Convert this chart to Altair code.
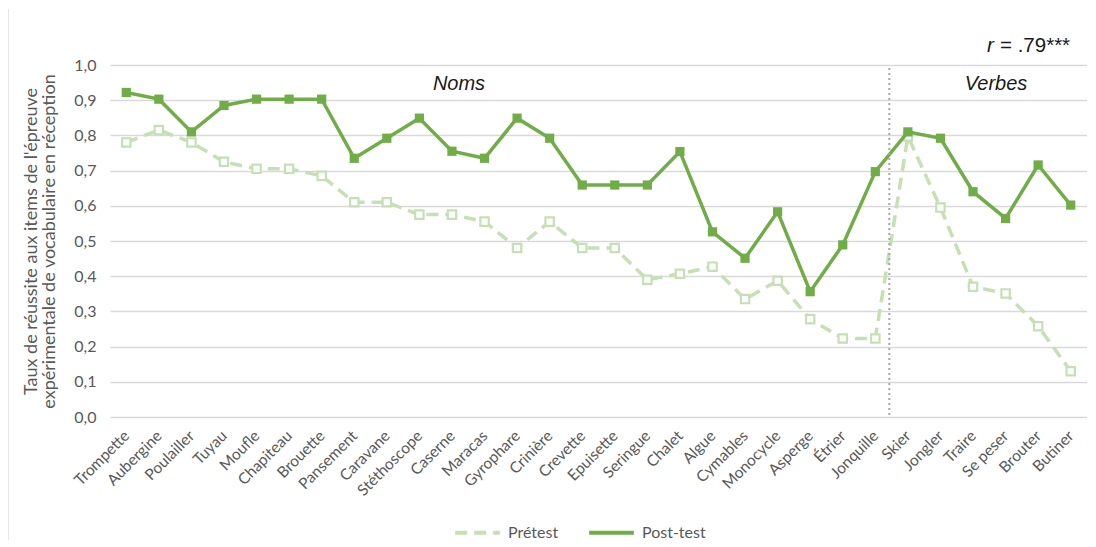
import altair as alt
import pandas as pd

categories = ["Trompette", "Aubergine", "Poulailler", "Tuyau", "Moufle", "Chapiteau",
              "Brouette", "Pansement", "Caravane", "Stéthoscope", "Caserne", "Maracas",
              "Gyrophare", "Crinière", "Crevette", "Epuisette", "Seringue", "Chalet",
              "Algue", "Cymables", "Monocycle", "Asperge", "Étrier", "Jonquille",
              "Skier", "Jongler", "Traire", "Se peser", "Brouter", "Butiner"]

pretest = [0.78, 0.815, 0.78, 0.725, 0.705, 0.705, 0.685, 0.61, 0.61, 0.575, 0.575, 0.555,
           0.48, 0.555, 0.48, 0.48, 0.39, 0.407, 0.427, 0.335, 0.387, 0.278, 0.223, 0.223,
           0.797, 0.595, 0.37, 0.351, 0.258, 0.13]

posttest = [0.922, 0.903, 0.81, 0.885, 0.903, 0.903, 0.903, 0.735, 0.792, 0.849, 0.755, 0.735,
            0.849, 0.792, 0.659, 0.659, 0.659, 0.754, 0.526, 0.451, 0.583, 0.356, 0.489, 0.697,
            0.81, 0.792, 0.64, 0.564, 0.716, 0.602]

series_names = ["Prétest", "Post-test"]
series_colors = ["#C5E0B4", "#70AD47"]
divider_after = ["Jonquille"]

rows = []
for s, vals in zip(series_names, [pretest, posttest]):
    for c, v in zip(categories, vals):
        rows.append({"series": s, "cat": c, "value": v})
df = pd.DataFrame(rows)
df_pre = df[df.series == "Prétest"]
df_post = df[df.series == "Post-test"]

FONT = "Lato"
LBL = "#595959"

W, H = 977, 352

xenc = alt.X("cat:N", sort=categories, scale=alt.Scale(type="point", padding=0.5),
             axis=alt.Axis(title=None, labelAngle=-45, labelAlign="right", labelBaseline="top",
                           labelFont=FONT, labelFontSize=15.5, labelColor=LBL, labelPadding=11,
                           labelOffset=-5,
                           ticks=False, tickSize=0, domain=False, grid=False, labelOverlap=False))
yenc = alt.Y("value:Q", scale=alt.Scale(domain=[0, 1], nice=False),
             axis=alt.Axis(title=["Taux de réussite aux items de l'épreuve",
                                  "expérimentale de vocabulaire en réception"],
                           values=[i / 10 for i in range(11)],
                           labelExpr="replace(format(datum.value, '.1f'), '.', ',')",
                           labelFont=FONT, labelFontSize=16, labelColor=LBL, labelPadding=14,
                           ticks=False, tickSize=0, domain=False,
                           gridColor="#D9D9D9", gridWidth=1.3,
                           titleFont=FONT, titleFontSize=18, titleFontWeight="normal",
                           titleColor=LBL, titlePadding=15, titleLineHeight=18))

color = alt.Color("series:N", scale=alt.Scale(domain=series_names, range=series_colors),
                  legend=alt.Legend(title=None, orient="none", legendX=343, legendY=443,
                                    direction="horizontal", symbolType="stroke",
                                    symbolStrokeWidth=4, symbolSize=2000, symbolOpacity=1,
                                    labelFont=FONT, labelFontSize=16, labelColor=LBL,
                                    columnPadding=22, labelOffset=6))
dash = alt.StrokeDash("series:N", scale=alt.Scale(domain=series_names, range=[[12, 7], [1, 0]]),
                      legend=None)

pre_pts = alt.Chart(df_pre).mark_square(size=70, fill="white", stroke="#C5E0B4",
                                        strokeWidth=2.2, opacity=1).encode(x=xenc, y=yenc)
post_pts = alt.Chart(df_post).mark_square(size=85, color="#70AD47", opacity=1).encode(x=xenc, y=yenc)

line_pre = alt.Chart(df_pre).mark_line(strokeWidth=3.5, strokeDash=[12, 7], color="#C5E0B4").encode(x=xenc, y=yenc)
line_post = alt.Chart(df_post).mark_line(strokeWidth=3.5, color="#70AD47").encode(x=xenc, y=yenc)

legend_layer = alt.Chart(df).mark_line(strokeWidth=3.5, opacity=0).encode(
    x=xenc, y=yenc, color=color, strokeDash=dash)

rule = alt.Chart(pd.DataFrame({"cat": divider_after})).mark_rule(
    color="#A6A6A6", strokeWidth=2, strokeDash=[2, 3], xOffset=14).encode(
    x=alt.X("cat:N", sort=categories), y=alt.value(3), y2=alt.value(H))

border = alt.Chart(pd.DataFrame({"cat": ["Trompette"]})).mark_rule(
    color="#E6E6E6", strokeWidth=1).encode(x=alt.value(-101.5), y=alt.value(-56), y2=alt.value(475))

def txt(label, xv, yv, style="italic", align="center", size=20):
    return alt.Chart(pd.DataFrame({"t": [label]})).mark_text(
        font="Liberation Sans", fontSize=size, fontStyle=style, color="#1a1a1a",
        align=align, baseline="alphabetic").encode(
        text="t:N", x=alt.value(xv), y=alt.value(yv))

noms = txt("Noms", 349, 25)
verbes = txt("Verbes", 886, 25)
r1 = txt("r", 877, -13, "italic", "left", 20.5)
r2 = txt("=\u00a0.79***", 890, -13, "normal", "left", 20.5)

chart = alt.layer(border, legend_layer, line_pre, pre_pts, line_post, post_pts, rule,
                  noms, verbes, r1, r2).properties(
    width=W, height=H,
    autosize=alt.AutoSizeParams(type="none"),
    padding={"left": 102, "top": 57, "right": 0, "bottom": 124},
).configure_view(stroke=None)

chart.save("out.html", embed_options={"renderer": "svg", "actions": False})
